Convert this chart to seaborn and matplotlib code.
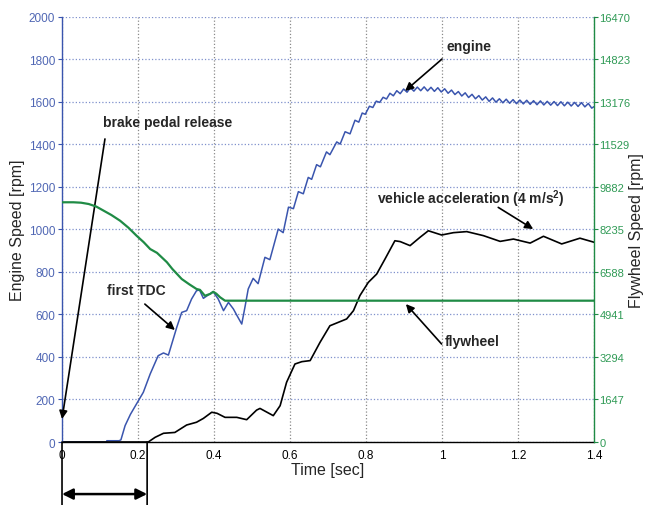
import matplotlib
matplotlib.use("Agg")
import matplotlib.pyplot as plt
import seaborn as sns

# engine speed [rpm], left axis
engine_t = [0.0, 0.117, 0.118, 0.150, 0.155, 0.166, 0.180, 0.196, 0.214, 0.232,
            0.253, 0.267, 0.280, 0.302, 0.315, 0.328, 0.341, 0.354, 0.362, 0.372,
            0.385, 0.398, 0.411, 0.425, 0.438, 0.451, 0.462, 0.473, 0.482, 0.490,
            0.503, 0.516, 0.534, 0.547, 0.569, 0.582, 0.596, 0.609, 0.622, 0.635,
            0.648, 0.657, 0.670, 0.680, 0.696, 0.705, 0.723, 0.732, 0.745, 0.758,
            0.771, 0.781, 0.790, 0.798, 0.809, 0.818, 0.827, 0.836, 0.845, 0.854,
            0.863, 0.872, 0.881, 0.890, 0.899, 0.908, 0.917, 0.926, 0.935, 0.944,
            0.953, 0.962, 0.971, 0.980, 0.989, 0.998, 1.007, 1.016, 1.025, 1.034,
            1.043, 1.052, 1.061, 1.070, 1.079, 1.088, 1.097, 1.106, 1.115, 1.124,
            1.133, 1.142, 1.151, 1.160, 1.169, 1.178, 1.187, 1.196, 1.205, 1.214,
            1.223, 1.232, 1.241, 1.250, 1.259, 1.268, 1.277, 1.286, 1.295, 1.304,
            1.313, 1.322, 1.331, 1.340, 1.349, 1.358, 1.367, 1.376, 1.385, 1.394,
            1.400]
engine_rpm = [0, 0, 6, 6, 10, 77, 130, 179, 234, 320,
              406, 419, 409, 540, 610, 618, 673, 712, 715, 676,
              692, 707, 673, 618, 657, 626, 590, 555, 640, 720,
              770, 745, 869, 858, 1002, 985, 1105, 1098, 1178, 1168,
              1245, 1236, 1305, 1295, 1365, 1352, 1412, 1402, 1460, 1450,
              1514, 1505, 1548, 1542, 1580, 1574, 1604, 1598, 1622, 1614,
              1641, 1629, 1653, 1639, 1661, 1646, 1667, 1651, 1670, 1653,
              1671, 1652, 1669, 1650, 1667, 1647, 1662, 1641, 1656, 1635,
              1649, 1628, 1643, 1621, 1636, 1615, 1630, 1609, 1624, 1603,
              1619, 1599, 1615, 1596, 1613, 1594, 1611, 1592, 1609, 1591,
              1608, 1589, 1606, 1587, 1605, 1586, 1603, 1585, 1602, 1583,
              1601, 1582, 1599, 1581, 1598, 1579, 1597, 1577, 1593, 1571,
              1578]

# flywheel speed [rpm], right axis
fly_t = [0.0, 0.03, 0.05, 0.07, 0.09, 0.109, 0.13, 0.153, 0.175, 0.196,
         0.215, 0.232, 0.25, 0.276, 0.29, 0.315, 0.335, 0.354, 0.363, 0.376,
         0.39, 0.398, 0.406, 0.416, 0.429, 1.4]
fly_rpm = [9289, 9289, 9273, 9223, 9124, 8968, 8795, 8573, 8301, 7996,
           7741, 7477, 7329, 6967, 6711, 6316, 6110, 5929, 5896, 5666,
           5740, 5822, 5748, 5608, 5476, 5476]

# vehicle acceleration (scaled onto the left axis)
accel_t = [0.0, 0.227, 0.245, 0.267, 0.297, 0.328, 0.354, 0.372, 0.394, 0.408,
           0.429, 0.46, 0.486, 0.512, 0.521, 0.556, 0.574, 0.591, 0.613, 0.631,
           0.653, 0.679, 0.705, 0.727, 0.749, 0.767, 0.784, 0.806, 0.828, 0.85,
           0.876, 0.89, 0.916, 0.942, 0.964, 0.999, 1.03, 1.065, 1.109, 1.153,
           1.188, 1.232, 1.267, 1.315, 1.363, 1.4]
accel_val = [0, 0, 22, 41, 45, 80, 93, 111, 140, 135,
             116, 116, 105, 150, 158, 124, 171, 281, 367, 378,
             383, 469, 547, 563, 579, 618, 689, 751, 790, 861,
             947, 943, 924, 963, 994, 974, 985, 990, 971, 944,
             955, 936, 968, 932, 959, 940]

x_ticks = [0, 0.2, 0.4, 0.6, 0.8, 1.0, 1.2, 1.4]
x_labels = ["0", "0.2", "0.4", "0.6", "0.8", "1", "1.2", "1.4"]
left_ticks = [0, 200, 400, 600, 800, 1000, 1200, 1400, 1600, 1800, 2000]
right_ticks = [0, 1647, 3294, 4941, 6588, 8235, 9882, 11529, 13176, 14823, 16470]

BLUE = "#3a55ae"
BLUE_TXT = "#5067b4"
GREEN = "#1f8b45"
GREEN_TXT = "#2f9a55"

sns.set_style("white")
plt.rcParams["font.family"] = ["Liberation Sans", "DejaVu Sans"]
plt.rcParams["mathtext.default"] = "regular"

fig = plt.figure(figsize=(6.46, 5.06), dpi=100)
ax = fig.add_axes([0.096, 0.1245, 0.8235, 0.84])
ax2 = ax.twinx()

sns.lineplot(x=engine_t, y=engine_rpm, ax=ax, color=BLUE, lw=1.1, estimator=None, sort=False)
sns.lineplot(x=accel_t, y=accel_val, ax=ax, color="black", lw=1.2, estimator=None, sort=False)
sns.lineplot(x=fly_t, y=fly_rpm, ax=ax2, color=GREEN, lw=1.6, estimator=None, sort=False)

ax.set_xlim(0, 1.4)
ax.set_ylim(0, 2000)
ax2.set_ylim(0, 16470)
ax.set_xticks(x_ticks)
ax.set_xticklabels(x_labels)
ax.set_yticks(left_ticks)
ax2.set_yticks(right_ticks)
ax2.set_yticklabels([str(v) for v in right_ticks])

# grid: dotted, horizontal in blue, vertical in grey
ax.yaxis.grid(True, ls=":", color="#7f90cc", lw=0.9)
ax.xaxis.grid(True, ls=":", color="#8a8a8a", lw=0.9)
ax2.grid(False)

ax.spines["top"].set_visible(False)
ax2.spines["top"].set_visible(False)
ax.spines["left"].set_color(BLUE)
ax.spines["bottom"].set_color("black")
ax.spines["right"].set_visible(False)
ax2.spines["left"].set_visible(False)
ax2.spines["bottom"].set_visible(False)
ax2.spines["right"].set_color(GREEN)
for sp in [ax.spines["left"], ax.spines["bottom"], ax2.spines["right"]]:
    sp.set_linewidth(1.0)

ax.tick_params(axis="x", direction="out", length=3, colors="black", labelsize=8.5, pad=2)
ax.tick_params(axis="y", direction="out", length=3, colors=BLUE, labelcolor=BLUE_TXT, labelsize=8.5, pad=2)
ax2.tick_params(axis="y", direction="out", length=3, colors=GREEN, labelcolor=GREEN_TXT, labelsize=8, pad=1)

ax.set_xlabel("Time [sec]", fontsize=11.5, labelpad=1)
ax.set_ylabel("Engine Speed [rpm]", fontsize=11.5)
ax2.set_ylabel("Flywheel Speed [rpm]", fontsize=11.5)
ax.yaxis.set_label_coords(-0.07, 0.5)
ax2.yaxis.set_label_coords(1.066, 0.5)

# annotations
txt = dict(fontsize=10, fontweight="bold", ha="left", va="center")
ax.text(1.013, 1864, "engine", **txt)
ax.text(0.108, 1506, "brake pedal release", **txt)
ax.text(0.829, 1148, "vehicle acceleration (4 m/s$^{2}$)", **txt)
ax.text(1.008, 475, "flywheel", **txt)
ax.text(0.118, 715, "first TDC", **txt)

arrow = dict(arrowstyle="-|>", color="black", lw=1.2, shrinkA=0, shrinkB=0, mutation_scale=12)
arrows = [((1.0, 1802), (0.903, 1652)),
          ((0.113, 1426), (0.0, 108)),
          ((1.148, 1104), (1.24, 1002)),
          ((0.999, 461), (0.905, 649)),
          ((0.218, 649), (0.297, 527))]
for tail, head in arrows:
    ax.annotate("", xy=head, xytext=tail, arrowprops=arrow)

# interval marker below the time axis
line = dict(arrowstyle="-", color="black", lw=1.2, shrinkA=0, shrinkB=0)
ax.annotate("", xy=(0.0, 0), xytext=(0.0, -300), arrowprops=line, annotation_clip=False)
ax.annotate("", xy=(0.224, 0), xytext=(0.224, -300), arrowprops=line, annotation_clip=False)
ax.annotate("", xy=(0.0, -245), xytext=(0.224, -245), annotation_clip=False,
            arrowprops=dict(arrowstyle="<|-|>", color="black", lw=1.8, shrinkA=0, shrinkB=0, mutation_scale=16))

fig.savefig("out.png", dpi=100)
